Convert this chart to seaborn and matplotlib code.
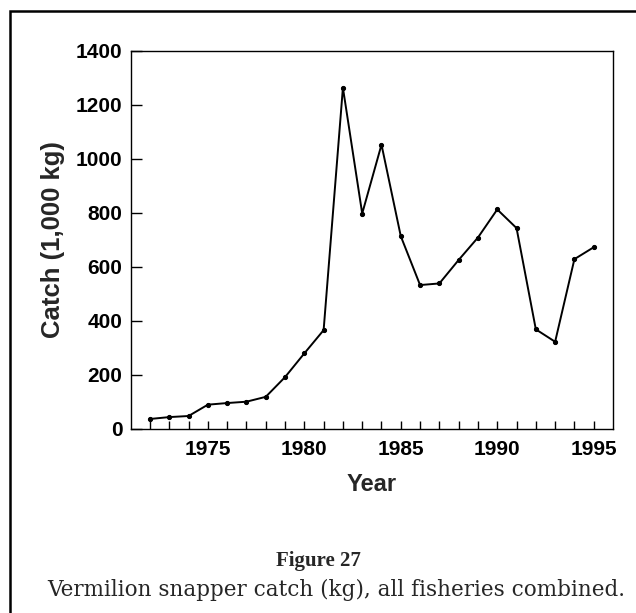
import matplotlib
matplotlib.use("Agg")
import matplotlib.pyplot as plt
import seaborn as sns
import pandas as pd
from matplotlib.patches import Rectangle

years = list(range(1972, 1996))
catch = [36, 43, 47, 89, 95, 100, 118, 191, 279, 365, 1263, 797, 1052, 713,
         532, 538, 625, 708, 812, 743, 368, 322, 628, 672]
x_ticks = [1975, 1980, 1985, 1990, 1995]
y_ticks = [0, 200, 400, 600, 800, 1000, 1200, 1400]

sns.set_style("ticks")
plt.rcParams['font.family'] = ['Liberation Sans', 'DejaVu Sans']

df = pd.DataFrame({"Year": years, "Catch": catch})

fig = plt.figure(figsize=(6.36, 6.13), dpi=100)
ax = fig.add_axes([130.7 / 636, 1 - 428.7 / 613, (613 - 130.7) / 636, (428.7 - 50.7) / 613])

sns.lineplot(data=df, x="Year", y="Catch", ax=ax, color="black", linewidth=1.4,
             marker="o", markersize=3.0, markeredgecolor="black")

ax.set_xlim(1971, 1996)
ax.set_ylim(0, 1400)
ax.set_xticks(years, minor=True)
ax.set_xticks(x_ticks)
ax.set_yticks(y_ticks)
ax.tick_params(axis="x", which="both", direction="in", length=6, width=1, colors="black", pad=8)
ax.tick_params(axis="y", direction="in", length=8, width=1, colors="black", pad=6)
for lbl in ax.get_xticklabels() + ax.get_yticklabels():
    lbl.set_fontsize(15)
    lbl.set_fontweight("bold")
    lbl.set_family(["Liberation Sans"])
for s in ax.spines.values():
    s.set_visible(True)
    s.set_color("black")
    s.set_linewidth(1.0)

ax.set_xlabel("Year", fontsize=17, fontweight="bold", labelpad=10, family=["Liberation Sans"])
ax.set_ylabel("Catch (1,000 kg)", fontsize=18.5, fontweight="bold", labelpad=8,
              family=["Liberation Sans"])

fig.text(318 / 636, 1 - 561 / 613, "Figure 27", ha="center", va="center",
         fontsize=15, family=["Liberation Serif"], fontweight="bold")
fig.text(336 / 636, 1 - 590 / 613, "Vermilion snapper catch (kg), all fisheries combined.",
         ha="center", va="center", fontsize=15.5, family=["DejaVu Serif"])

fig.patches.append(Rectangle((10 / 636, -0.1), 1.2, 1 - 11 / 613 + 0.1,
                             transform=fig.transFigure, fill=False,
                             edgecolor="black", linewidth=1.8))

fig.savefig("out.png", dpi=100)
